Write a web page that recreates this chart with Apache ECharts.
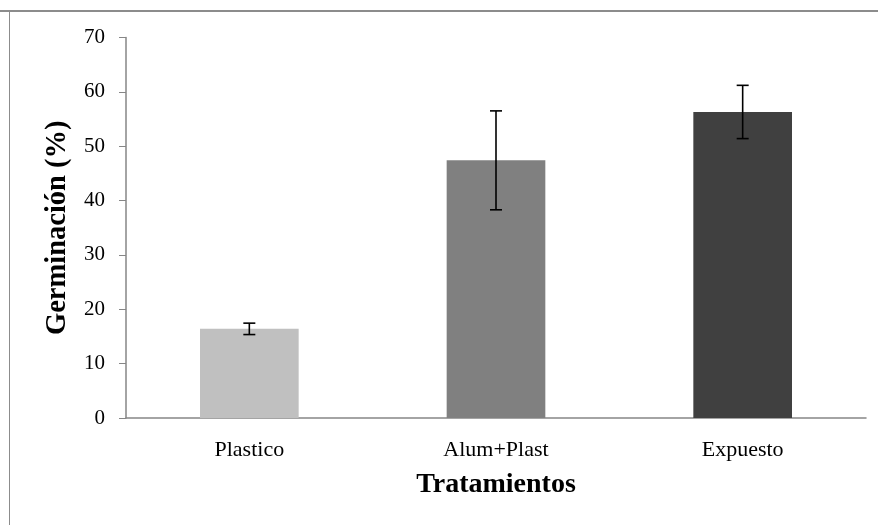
<!DOCTYPE html>
<html>
<head>
<meta charset="utf-8">
<script src="https://cdn.jsdelivr.net/npm/echarts@6/dist/echarts.min.js"></script>
<style>
html,body{margin:0;padding:0;background:#fff;}
#chart{width:878px;height:525px;}
</style>
</head>
<body>
<div id="chart"></div>
<script>
const categories = ['Plastico', 'Alum+Plast', 'Expuesto'];
const values = [16.4, 47.4, 56.3];
const errors = [1.05, 9.1, 4.9];
const barColors = ['#c0c0c0', '#808080', '#404040'];
const yTicks = [0, 10, 20, 30, 40, 50, 60, 70];

const chart = echarts.init(document.getElementById('chart'));
const serif = '"Liberation Serif", "Times New Roman", serif';

chart.setOption({
  animation: false,
  backgroundColor: '#ffffff',
  grid: { left: 126, right: 12, top: 37.5, bottom: 107, containLabel: false },
  graphic: [
    { type: 'line', shape: { x1: 0, y1: 11, x2: 878, y2: 11 }, style: { stroke: '#8c8c8c', lineWidth: 2 } },
    { type: 'line', shape: { x1: 9.5, y1: 11, x2: 9.5, y2: 525 }, style: { stroke: '#8c8c8c', lineWidth: 1 } }
  ],
  xAxis: {
    type: 'category',
    data: categories,
    name: 'Tratamientos',
    nameLocation: 'middle',
    nameGap: 53,
    nameTextStyle: { fontFamily: serif, fontSize: 28, fontWeight: 'bold', color: '#000' },
    axisLine: { lineStyle: { color: '#868686', width: 1.5 } },
    axisTick: { show: false },
    axisLabel: { fontFamily: serif, fontSize: 22, color: '#000', margin: 21 },
    splitLine: { show: false }
  },
  yAxis: {
    type: 'value',
    min: yTicks[0],
    max: yTicks[yTicks.length - 1],
    interval: 10,
    name: 'Germinación (%)',
    nameLocation: 'middle',
    nameGap: 54,
    nameTextStyle: { fontFamily: serif, fontSize: 28.5, fontWeight: 'bold', color: '#000' },
    axisLine: { show: true, lineStyle: { color: '#868686', width: 1.5 } },
    axisTick: { show: true, inside: false, length: 7, lineStyle: { color: '#868686' } },
    axisLabel: { fontFamily: serif, fontSize: 21, color: '#000', margin: 21 },
    splitLine: { show: false }
  },
  series: [
    {
      type: 'bar',
      barWidth: '40%',
      data: values.map((v, i) => ({ value: v, itemStyle: { color: barColors[i] } })),
      z: 2
    },
    {
      type: 'custom',
      z: 5,
      data: values.map((v, i) => [i, v - errors[i], v + errors[i]]),
      renderItem: function (params, api) {
        const lo = api.coord([api.value(0), api.value(1)]);
        const hi = api.coord([api.value(0), api.value(2)]);
        const hw = 6;
        const st = { stroke: '#000', lineWidth: 1.6 };
        return {
          type: 'group',
          children: [
            { type: 'line', shape: { x1: hi[0], y1: hi[1], x2: lo[0], y2: lo[1] }, style: st },
            { type: 'line', shape: { x1: hi[0] - hw, y1: hi[1], x2: hi[0] + hw, y2: hi[1] }, style: st },
            { type: 'line', shape: { x1: lo[0] - hw, y1: lo[1], x2: lo[0] + hw, y2: lo[1] }, style: st }
          ]
        };
      }
    }
  ]
});
</script>
</body>
</html>
